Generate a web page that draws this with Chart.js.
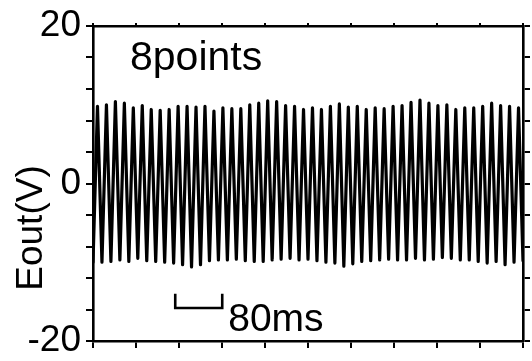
<!DOCTYPE html>
<html>
<head>
<meta charset="utf-8">
<script src="https://cdn.jsdelivr.net/npm/chart.js@4.4.1/dist/chart.umd.min.js"></script>
<style>
  html, body { margin: 0; padding: 0; background: #fff; }
  #wrap { width: 532px; height: 361px; }
</style>
</head>
<body>
<div id="wrap"><canvas id="c" width="532" height="361"></canvas></div>
<script>
// ---- data ----
// peak voltages of the 48 cycles (V)
const peakValues = [
  9.8, 10.0, 10.4, 10.2, 9.6, 9.9, 9.4, 9.3, 9.4, 9.8, 9.8, 9.7, 9.8, 9.2, 9.6, 9.5,
  9.5, 10.0, 10.2, 10.5, 10.4, 9.9, 9.8, 9.4, 9.6, 9.4, 9.8, 10.1, 9.7, 9.8, 9.4, 9.6,
  9.5, 9.8, 9.9, 10.3, 10.6, 10.2, 9.9, 10.0, 9.4, 9.6, 9.6, 9.8, 10.2, 9.9, 9.8, 9.6
];
// trough voltages (before, between and after the peaks) (V)
const troughValues = [
  -10.0,
  -10.0, -9.9, -9.7, -9.9, -9.5, -9.8, -9.9, -10.0, -10.1, -10.3, -10.6, -10.3, -9.8, -9.7, -9.7, -9.6,
  -9.8, -9.9, -9.9, -9.7, -9.6, -9.5, -9.7, -9.6, -9.8, -10.0, -10.1, -10.5, -10.2, -9.9, -9.8, -9.7,
  -9.6, -9.7, -9.7, -9.5, -9.7, -9.6, -9.4, -9.5, -9.7, -9.7, -9.9, -10.1, -9.9, -10.3, -10.0,
  -9.8
];
const halfCycleMs = 7.625;           // time between a trough and the next peak
const timeRangeMs = [0, 732];
const xTickValues = [0, 73.2, 146.4, 219.6, 292.8, 366, 439.2, 512.4, 585.6, 658.8, 732];
const yTickValues = [-20, -16, -12, -8, -4, 0, 4, 8, 12, 16, 20];
const yTickLabels = { '20': '20', '0': '0', '-20': '-20' };
const scaleBarMs = [140, 220];       // the "80ms" bar
const scaleBarV = [-14.0, -15.8];    // bracket top / bottom
const titleText = '8points';
const scaleBarText = '80ms';
const yTitle = 'Eout(V)';

// ---- build series ----
const trace = [];
for (let i = 0; i < troughValues.length; i++) {
  trace.push({ x: (2 * i) * halfCycleMs, y: troughValues[i] });
  if (i < peakValues.length) trace.push({ x: (2 * i + 1) * halfCycleMs, y: peakValues[i] });
}
const bracket = [
  { x: scaleBarMs[0], y: scaleBarV[0] },
  { x: scaleBarMs[0], y: scaleBarV[1] },
  { x: scaleBarMs[1], y: scaleBarV[1] },
  { x: scaleBarMs[1], y: scaleBarV[0] }
];

const FONT = "'Liberation Sans', Arial, sans-serif";

function axisCommon(extra) {
  return Object.assign({
    type: 'linear',
    grid: { drawOnChartArea: false, drawTicks: true, tickLength: 7, color: '#000', lineWidth: 2 },
    border: { display: true, color: '#000', width: 2.6 },
    ticks: { display: false }
  }, extra);
}

const annot = {
  id: 'annot',
  afterDatasetsDraw(chart) {
    const ctx = chart.ctx;
    const xs = chart.scales.x;
    ctx.save();
    ctx.fillStyle = '#000';
    ctx.textBaseline = 'alphabetic';
    ctx.textAlign = 'left';
    ctx.font = '41px ' + FONT;
    ctx.fillText(titleText, 130, 70);
    ctx.font = '39px ' + FONT;
    ctx.fillText(scaleBarText, xs.getPixelForValue(scaleBarMs[1]) + 6, 331);
    ctx.translate(32, 228);
    ctx.rotate(-Math.PI / 2);
    ctx.textAlign = 'center';
    ctx.textBaseline = 'middle';
    ctx.font = '37px ' + FONT;
    ctx.fillText(yTitle, 0, 0);
    ctx.restore();
  }
};

new Chart(document.getElementById('c'), {
  type: 'line',
  data: {
    datasets: [
      { data: trace, borderColor: '#000', borderWidth: 3.2, pointRadius: 0, tension: 0,
        borderJoinStyle: 'round', borderCapStyle: 'round', fill: false },
      { data: bracket, borderColor: '#000', borderWidth: 2.6, pointRadius: 0, tension: 0, fill: false }
    ]
  },
  options: {
    responsive: false,
    animation: false,
    events: [],
    layout: { padding: 0 },
    plugins: { legend: { display: false }, tooltip: { enabled: false } },
    scales: {
      x: axisCommon({
        position: 'bottom', min: timeRangeMs[0], max: timeRangeMs[1],
        afterBuildTicks: s => { s.ticks = xTickValues.map(v => ({ value: v })); },
        afterFit: s => { s.height = 20; }
      }),
      x2: axisCommon({
        position: 'top', min: timeRangeMs[0], max: timeRangeMs[1],
        grid: { drawOnChartArea: false, tickLength: 3, color: '#000', lineWidth: 2 },
        afterBuildTicks: s => { s.ticks = xTickValues.map(v => ({ value: v })); },
        afterFit: s => { s.height = 26; }
      }),
      y: axisCommon({
        position: 'left', min: -20, max: 20,
        afterBuildTicks: s => { s.ticks = yTickValues.map(v => ({ value: v })); },
        ticks: {
          display: true, autoSkip: false, padding: 5, color: '#000',
          font: { family: FONT, size: 37, lineHeight: 0.9 },
          callback: v => (yTickLabels[String(v)] !== undefined ? yTickLabels[String(v)] : '')
        },
        afterFit: s => { s.width = 93; s.paddingTop = 0; s.paddingBottom = 0; }
      }),
      y2: axisCommon({
        position: 'right', min: -20, max: 20,
        afterBuildTicks: s => { s.ticks = yTickValues.map(v => ({ value: v })); },
        afterFit: s => { s.width = 9; }
      })
    }
  },
  plugins: [annot]
});
</script>
</body>
</html>
